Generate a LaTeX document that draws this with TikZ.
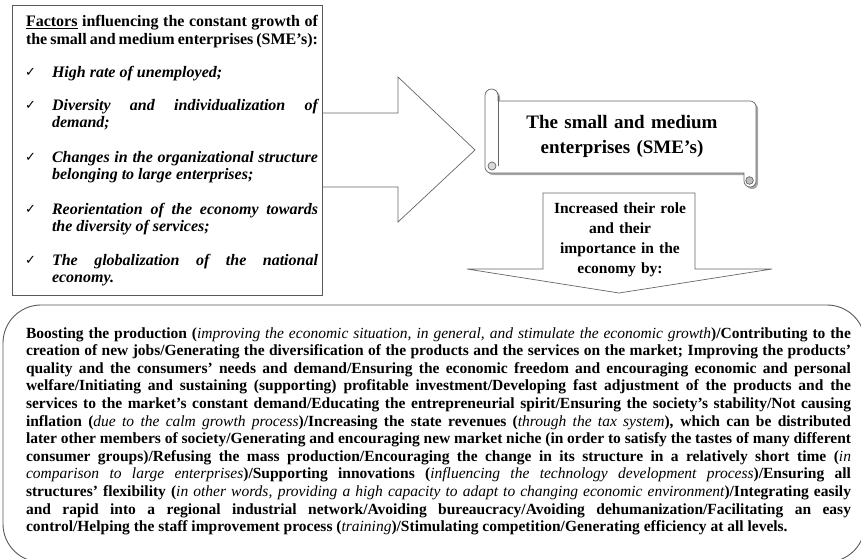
\documentclass[tikz,border=0pt]{standalone}
\usepackage{fontspec}
\setmainfont{Liberation Serif}
\newfontfamily\dejavu{DejaVu Sans}
\newcommand\jl[1]{\hbox to 825pt{\spaceskip=0.25em plus 1.5em minus 0.1em\relax #1}}
\newcommand\ital[1]{{\mdseries\itshape #1}}
\tikzset{
  shapeline/.style={draw=black!60, line width=0.7pt, line join=miter},
  boxline/.style={draw=black!65, line width=0.9pt},
  txt/.style={inner sep=0pt, outer sep=0pt, anchor=base west},
  titletxt/.style={txt, text width=292pt, align=justify, font=\fontsize{16}{18}\selectfont\bfseries},
  itemtxt/.style={txt, text width=266pt, align=justify, font=\fontsize{16}{17}\selectfont\bfseries\itshape},
  checktxt/.style={txt, font=\dejavu\fontsize{13}{13}\selectfont},
  scrolltxt/.style={inner sep=0pt, anchor=base, text width=230pt, align=center, font=\fontsize{19}{25}\selectfont\bfseries},
  arrowtxt/.style={inner sep=0pt, anchor=base, text width=150pt, align=center, font=\fontsize{15.5}{20.3}\selectfont\bfseries},
  linetxt/.style={txt, font=\fontsize{15.5}{17.6}\selectfont\bfseries},
}
\begin{document}
\begin{tikzpicture}[x=1pt,y=-1pt]
\useasboundingbox (0,0) rectangle (861,558);
\clip (0,0) rectangle (861,558);
% right block arrow
\draw[shapeline, fill=white] (322,113) -- (398,113) -- (398,77) -- (475,150) -- (398,222) -- (398,187) -- (322,187) -- cycle;
% left box
\draw[boxline, fill=white] (12,5) rectangle (322,295);
\node[titletxt] (ttl) at (26,26.5) {\parfillskip=0pt \underline{Factors} influencing the constant growth of\linebreak the small and medium enterprises (SME’s):};
\node[checktxt] (ck1) at (25,76) {✓};
\node[checktxt] (ck2) at (25,109) {✓};
\node[checktxt] (ck3) at (25,161) {✓};
\node[checktxt] (ck4) at (25,213) {✓};
\node[checktxt] (ck5) at (25,264) {✓};
\node[itemtxt] (it1) at (52,77) {High rate of unemployed;};
\node[itemtxt] (it2) at (52,110) {Diversity and individualization of\linebreak demand;};
\node[itemtxt] (it3) at (52,162) {Changes in the organizational structure\linebreak belonging to large enterprises;};
\node[itemtxt] (it4) at (52,214) {Reorientation of the economy towards\linebreak the diversity of services;};
\node[itemtxt] (it5) at (52,265) {The globalization of the national\linebreak economy.};
% scroll
\def\scrollpath{(485,95.5) arc[start angle=180, end angle=360, radius=6.5] -- (498,101) -- (750,101)
  arc[start angle=-90, end angle=0, radius=6] -- (756,181) arc[start angle=0, end angle=180, radius=6]
  -- (744,173) -- (491,173) arc[start angle=90, end angle=180, radius=6] -- cycle}
\fill[black!35, shift={(2,2)}] \scrollpath;
\draw[shapeline, fill=white] \scrollpath;
\draw[shapeline] (498,95.5) -- (498,166);
\draw[shapeline, fill=black!15] (492,166) circle[radius=4];
\draw[shapeline, fill=black!25] (749.5,180.5) circle[radius=3.8];
\node[scrolltxt] (sme) at (622,128) {The small and medium\\enterprises (SME’s)};
% down block arrow
\draw[shapeline, fill=white] (543,193) -- (695,193) -- (695,269) -- (772,269) -- (619,293) -- (467,269) -- (543,269) -- cycle;
\node[arrowtxt] (incr) at (620,213) {Increased their role\\and their\\importance in the\\economy by:};
% bottom box
\draw[boxline, rounded corners=38pt] (3,305) rectangle (865,562);
\node[linetxt] (l1) at (26,338) {\jl{Boosting the production (\ital{improving the economic situation, in general, and stimulate the economic growth})/Contributing to the}};
\node[linetxt] (l2) at (26,355.6) {\jl{creation of new jobs/Generating the diversification of the products and the services on the market; Improving the products’}};
\node[linetxt] (l3) at (26,373.2) {\jl{quality and the consumers’ needs and demand/Ensuring the economic freedom and encouraging economic and personal}};
\node[linetxt] (l4) at (26,390.8) {\jl{welfare/Initiating and sustaining (supporting) profitable investment/Developing fast adjustment of the products and the}};
\node[linetxt] (l5) at (26,408.4) {\jl{services to the market’s constant demand/Educating the entrepreneurial spirit/Ensuring the society’s stability/Not causing}};
\node[linetxt] (l6) at (26,426) {\jl{inflation (\ital{due to the calm growth process})/Increasing the state revenues (\ital{through the tax system}), which can be distributed}};
\node[linetxt] (l7) at (26,443.6) {\jl{later other members of society/Generating and encouraging new market niche (in order to satisfy the tastes of many different}};
\node[linetxt] (l8) at (26,461.2) {\jl{consumer groups)/Refusing the mass production/Encouraging the change in its structure in a relatively short time (\ital{in}}};
\node[linetxt] (l9) at (26,478.8) {\jl{\ital{comparison to large enterprises})/Supporting innovations (\ital{influencing the technology development process})/Ensuring all}};
\node[linetxt] (l10) at (26,496.4) {\jl{structures’ flexibility (\ital{in other words, providing a high capacity to adapt to changing economic environment})/Integrating easily}};
\node[linetxt] (l11) at (26,514) {\jl{and rapid into a regional industrial network/Avoiding bureaucracy/Avoiding dehumanization/Facilitating an easy}};
\node[linetxt] (l12) at (26,531.6) {control/Helping the staff improvement process (\ital{training})/Stimulating competition/Generating efficiency at all levels.};
\end{tikzpicture}
\end{document}
